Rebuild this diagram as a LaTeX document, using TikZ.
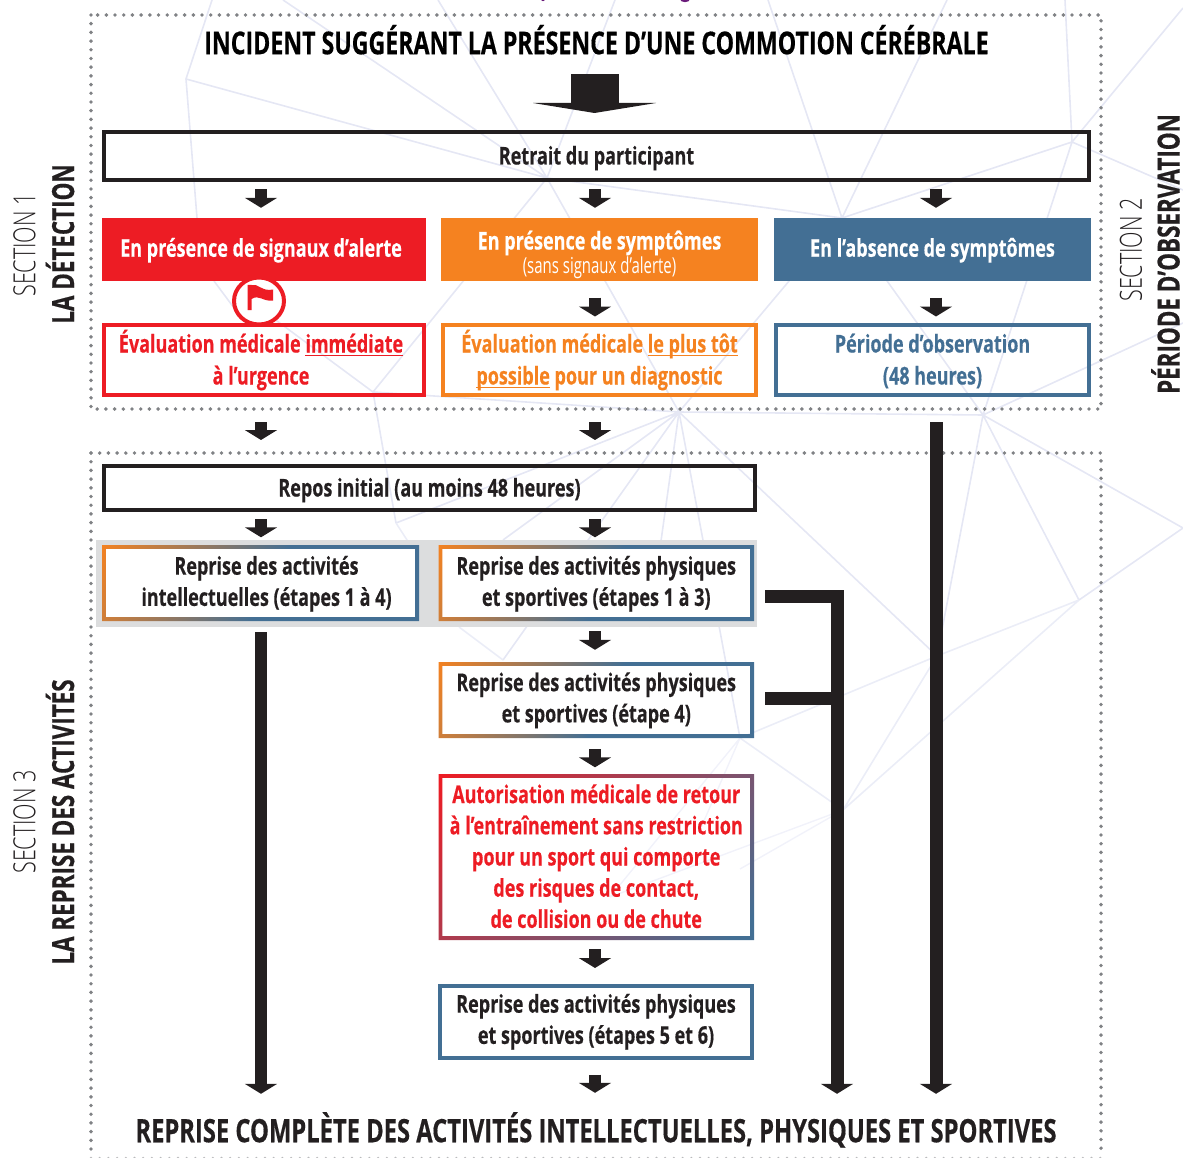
\documentclass[tikz,border=0pt]{standalone}
\usepackage{fontspec}
\usetikzlibrary{arrows.meta}
\setmainfont[FakeStretch=0.735,BoldFeatures={FakeBold=0.4}]{Open Sans}
\newfontfamily\lightcond[FakeStretch=0.705]{Open Sans Light}
\newfontfamily\regcond[FakeStretch=0.68]{Open Sans}
\definecolor{ink}{HTML}{231F20}
\definecolor{cR}{HTML}{ED1C24}
\definecolor{cO}{HTML}{F58220}
\definecolor{cB}{HTML}{436F94}
\definecolor{web}{HTML}{E5E7F4}
\definecolor{webp}{HTML}{F1F2FA}
\definecolor{dots}{HTML}{808285}
\definecolor{panel}{HTML}{DCDDDE}
\definecolor{plum}{HTML}{6A1B7A}
\pgfdeclarehorizontalshading{obshade}{100bp}{color(0bp)=(cO); color(16bp)=(cO); color(52bp)=(cB); color(100bp)=(cB)}
\pgfdeclarehorizontalshading{rbshade}{100bp}{color(0bp)=(cR); color(15bp)=(cR); color(82bp)=(cB); color(100bp)=(cB)}
\newsavebox\ulbox
\newcommand\uln[1]{\sbox\ulbox{#1}\rlap{\rule[-3.8pt]{\wd\ulbox}{1.6pt}}\usebox\ulbox}
% one line of text, of fixed height and depth, so that baselines are exact
\newcommand\lb[2][22.5pt]{\rule[-5.5pt]{0pt}{\dimexpr#1+5.5pt\relax}\smash{#2}}
\newcommand\lbn[1]{\rule[-5.5pt]{0pt}{5.5pt}\smash{#1}}
% gradient frame: name, x1, y1, x2, y2, shading options, text
\newcommand\gradbox[7]{%
  \shade[even odd rule,#6] (#2,#3) rectangle (#4,#5) ({#2+3.8},{#3+3.8}) rectangle ({#4-3.8},{#5-3.8});
  \node[lbl,minimum width={#4-#2},minimum height={#5-#3}] (#1) at ({(#2+#4)/2},{(#3+#5)/2}) {#7};}
\tikzset{
  x=1pt,y=-1pt,
  webl/.style={draw=web,line width=1.6pt},
  webq/.style={draw=webp,line width=1.4pt},
  frame/.style={draw=dots,line width=3.9pt,line cap=round,dash pattern=on 0pt off 8.7pt},
  lbl/.style={inner sep=0pt,align=center,text=ink,font=\fontsize{24.5}{31.2}\selectfont\bfseries},
  plainbox/.style={lbl,draw,line width=4pt},
  head/.style={lbl,text=white,fill},
  bigtitle/.style={lbl,font=\fontsize{31.5}{36}\selectfont\bfseries,minimum height=34pt},
  sec/.style={inner sep=0pt,rotate=90,text=ink,font=\fontsize{30.5}{32}\selectfont\lightcond},
  secb/.style={inner sep=0pt,rotate=90,text=ink,font=\fontsize{30.5}{32}\selectfont\bfseries},
  blk/.style={ink,line width=12pt,-{Triangle[length=10pt,width=32pt]}},
  bar/.style={ink,line width=13pt,-{Triangle[length=10pt,width=32pt]}},
  arm/.style={ink,line width=13pt},
}
\begin{document}
\begin{tikzpicture}
\useasboundingbox (0,0) rectangle (1183,1158);
% faint web
\path[webl]
 (212,0)--(186,79)--(197,218) (186,79)--(547,178)
 (283,0)--(547,178) (438,0)--(547,178) (615,0)--(547,178)
 (547,178)--(373,392) (547,178)--(679,412) (547,178)--(842,218)
 (842,218)--(1072,142) (768,0)--(842,218) (947,0)--(842,218)
 (1065,0)--(1072,142) (1183,8)--(1072,142) (1072,142)--(1183,190)
 (1072,142)--(983,415) (842,218)--(983,415) (842,218)--(679,412)
 (983,415)--(1183,323) (983,415)--(679,412) (373,392)--(679,412)
 (214,281)--(240,316) (273,318)--(373,392)
 (373,392)--(396,523) (679,412)--(396,523) (679,412)--(503,540)
 (679,412)--(503,660) (679,412)--(649,627) (679,412)--(740,738)
 (679,412)--(937,656) (983,415)--(937,656) (983,415)--(1079,600)
 (983,415)--(1183,528) (1079,600)--(1183,528);
\path[webl,draw=web!75!white]
 (1079,600)--(937,656) (1079,600)--(843,810) (937,656)--(843,810)
 (937,656)--(740,738) (740,738)--(843,810) (396,523)--(420,560) (459,627)--(503,660);
\path[webq]
 (843,810)--(740,869) (843,810)--(610,897) (740,738)--(610,897) (740,738)--(700,830);
\fill[plum] (543,-1) ellipse [x radius=2,y radius=2.2];
\fill[plum] (685,-1) ellipse [x radius=5,y radius=3.2];
% dotted frames
\draw[frame] (91,15) rectangle (1101,409);
\draw[frame] (91,453) -- (1101,453) -- (1101,1152);
\draw[frame] (91,453) -- (91,1152);
\draw[frame,draw=dots!55!white,line width=2.6pt] (91,1158) -- (1101,1158);
% side labels
\node[sec]  (s1)  at (24.5,245) {SECTION 1};
\node[secb] (s1b) at (60,244) {LA DÉTECTION};
\node[sec]  (s2)  at (1131,250) {SECTION 2};
\node[secb] (s2b) at (1165.5,254) {PÉRIODE D’OBSERVATION};
\node[sec]  (s3)  at (24.5,822) {SECTION 3};
\node[secb] (s3b) at (60,822) {LA REPRISE DES ACTIVITÉS};
% titles
\node[bigtitle,text=black] (incident) at (596.5,44) {\lb[26pt]{INCIDENT SUGGÉRANT LA PRÉSENCE D’UNE COMMOTION CÉRÉBRALE}};
\node[bigtitle,font=\fontsize{32.3}{36}\selectfont\bfseries] (fin) at (596,1132) {\lb[26pt]{REPRISE COMPLÈTE DES ACTIVITÉS INTELLECTUELLES, PHYSIQUES ET SPORTIVES}};
% first block
\node[plainbox,draw=ink,minimum width=985pt,minimum height=48pt] (retrait) at (596.5,156) {\lb{Retrait du participant}};
\node[head,fill=cR,minimum width=324pt,minimum height=63pt] (hR) at (264,249.5) {\lb[20pt]{En présence de signaux d’alerte\hspace*{6pt}}};
\node[head,fill=cO,minimum width=317pt,minimum height=63pt,font=\fontsize{24.5}{24}\selectfont\bfseries] (hO) at (599.5,249.5) {\rule{0pt}{29.5pt}\smash{En présence de symptômes}\\\lbn{\fontsize{22}{24}\selectfont\mdseries\regcond (sans signaux d’alerte)}};
\node[head,fill=cB,minimum width=317pt,minimum height=63pt] (hB) at (932.5,249.5) {\lb[20pt]{En l’absence de symptômes}};
\node[plainbox,draw=cR,text=cR,minimum width=320pt,minimum height=70pt,font=\fontsize{24.5}{32}\selectfont\bfseries] (eR) at (264,360) {\lb{Évaluation médicale \uln{immédiate}\hspace*{6pt}}\\\lb{à l’urgence\hspace*{6pt}}};
\node[plainbox,draw=cO,text=cO,minimum width=313pt,minimum height=70pt,font=\fontsize{24.5}{32}\selectfont\bfseries] (eO) at (599.5,360) {\lb{Évaluation médicale \uln{le plus tôt}}\\\lb{\uln{possible} pour un diagnostic}};
\node[plainbox,draw=cB,text=cB,minimum width=313pt,minimum height=70pt,font=\fontsize{24.5}{32}\selectfont\bfseries] (eB) at (932.5,360) {\lb{Période d’observation}\\\lb{(48 heures)}};
% flag
\draw[cR,line width=4pt,fill=white] (259,301) ellipse [x radius=25,y radius=23.5];
\fill[cR] (247.7,285) -- (251.7,285) .. controls (258,283) and (262,292) .. (273,289.5) -- (273,300.5)
  .. controls (263,302) and (259,294) .. (251.7,299) -- (251.7,310) -- (247.7,310) -- cycle;
% second block
\fill[panel] (96,540) rectangle (757,627);
\node[plainbox,draw=ink,minimum width=651pt,minimum height=44pt] (repos) at (429.5,488) {\lb{Repos initial (au moins 48 heures)}};
\fill[white] (102,545) rectangle (419,621);
\fill[white] (438.5,545) rectangle (754,621);
\gradbox{act1}{102}{545}{419}{621}{shading=obshade,shading angle=-27}{\lb[20pt]{\hspace*{12pt}Reprise des activités}\\\lb[20pt]{\hspace*{12pt}intellectuelles (étapes 1 à 4)}}
\gradbox{act2}{438.5}{545}{754}{621}{shading=obshade,shading angle=-27}{\lb[20pt]{Reprise des activités physiques}\\\lb[20pt]{et sportives (étapes 1 à 3)}}
\gradbox{act3}{438.5}{662}{754}{738}{shading=obshade,shading angle=-27}{\lb[19pt]{Reprise des activités physiques}\\\lb[19pt]{et sportives (étape 4)}}
\gradbox{auto}{438.5}{774}{754}{940}{shading=rbshade,shading angle=-45}{\lb{\textcolor{cR}{Autorisation médicale de retour}}\\\lb{\textcolor{cR}{à l’entraînement sans restriction}}\\\lb{\textcolor{cR}{pour un sport qui comporte}}\\\lb{\textcolor{cR}{des risques de contact,}}\\\lb{\textcolor{cR}{de collision ou de chute}}}
\node[plainbox,draw=cB,minimum width=312pt,minimum height=72pt] (act5) at (596,1021.5) {\lb[19pt]{Reprise des activités physiques}\\\lb[19pt]{et sportives (étapes 5 et 6)}};
% connectors
\draw[ink,line width=48pt,shorten <=13pt,shorten >=27pt] (594.5,0 |- incident.south) -- (594.5,0 |- retrait.north);
\coordinate (tipL) at (533,103);
\coordinate (tipR) at (656,103);
\coordinate (tipB) at (594.5,113);
\fill[ink] (tipL) -- (tipR) -- (tipB) -- cycle;
\draw[blk,shorten <=7.5pt,shorten >=10pt] (261,0 |- retrait.south) -- (261,0 |- hR.north);
\draw[blk,shorten <=7.5pt,shorten >=10pt] (595,0 |- retrait.south) -- (595,0 |- hO.north);
\draw[blk,shorten <=7.5pt,shorten >=10pt] (936,0 |- retrait.south) -- (936,0 |- hB.north);
\draw[blk,shorten <=16.5pt,shorten >=6.5pt] (595,0 |- hO.south) -- (595,0 |- eO.north);
\draw[blk,shorten <=16.5pt,shorten >=6.5pt] (936,0 |- hB.south) -- (936,0 |- eB.north);
\draw[blk,shorten <=25pt,shorten >=24pt] (261,0 |- eR.south) -- (261,0 |- repos.north);
\draw[blk,shorten <=25pt,shorten >=24pt] (595,0 |- eO.south) -- (595,0 |- repos.north);
\draw[blk,shorten <=7pt,shorten >=7.5pt] (261,0 |- repos.south) -- (261,0 |- act1.north);
\draw[blk,shorten <=7pt,shorten >=7.5pt] (595,0 |- repos.south) -- (595,0 |- act2.north);
\draw[blk,shorten <=10pt,shorten >=12pt] (595,0 |- act2.south) -- (595,0 |- act3.north);
\draw[blk,shorten <=11pt,shorten >=6.5pt] (595,0 |- act3.south) -- (595,0 |- auto.north);
\draw[blk,shorten <=9pt,shorten >=15.5pt] (595,0 |- auto.south) -- (595,0 |- act5.north);
\draw[blk,shorten <=15pt,shorten >=22pt] (595,0 |- act5.south) -- (595,0 |- fin.north);
\draw[bar,line width=12pt,shorten <=11pt,shorten >=21pt] (261,0 |- act1.south) -- (261,0 |- fin.north);
\draw[bar,shorten <=25pt,shorten >=21pt] (936,0 |- eB.south) -- (936,0 |- fin.north);
\coordinate (b1) at (765,596.5);
\coordinate (b2) at (844,596.5);
\coordinate (b3) at (765,698.5);
\coordinate (b4) at (837,698.5);
\coordinate (b5) at (837,590);
\draw[arm] (b1) -- (b2);
\draw[arm] (b3) -- (b4);
\draw[bar,shorten >=21pt] (b5) -- (837,0 |- fin.north);
\end{tikzpicture}
\end{document}
